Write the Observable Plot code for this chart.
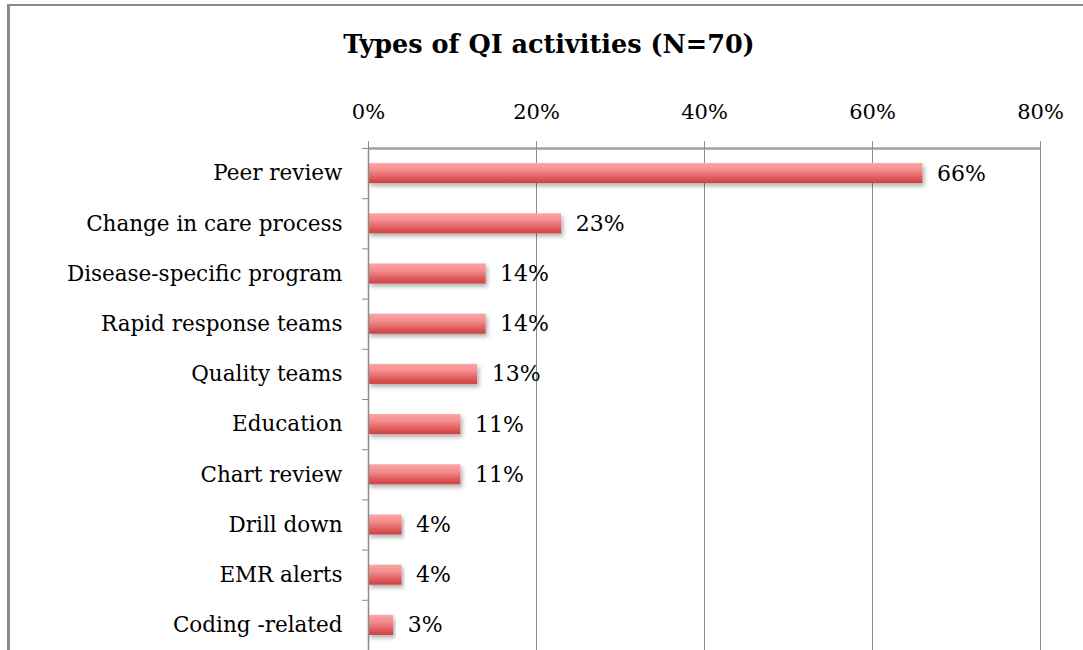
<!DOCTYPE html>
<html>
<head>
<meta charset="utf-8">
<script src="https://cdn.jsdelivr.net/npm/d3@7"></script>
<script src="https://cdn.jsdelivr.net/npm/@observablehq/plot@0.6"></script>
<style>
  html, body { margin: 0; padding: 0; background: #fff; width: 1083px; height: 650px; overflow: hidden; }
  #frame { position: absolute; left: 7px; top: 4px; width: 1100px; height: 700px; border-left: 3px solid #8a8a8a; border-top: 2px solid #8a8a8a; }
  #title { position: absolute; left: 0; width: 1098px; top: 29px; text-align: center; font-family: "DejaVu Serif", serif; font-weight: bold; font-size: 25.5px; color: #000; }
  #chart { position: absolute; left: 0; top: 70px; }
</style>
</head>
<body>
<div id="frame"></div>
<div id="title">Types of QI activities (N=70)</div>
<div id="chart"></div>
<script>
const categories = ["Peer review", "Change in care process", "Disease-specific program", "Rapid response teams", "Quality teams", "Education", "Chart review", "Drill down", "EMR alerts", "Coding -related"];
const values = [66, 23, 14, 14, 13, 11, 11, 4, 4, 3];
const xTicks = [0, 20, 40, 60, 80];

const data = categories.map((c, i) => ({ i, c, v: values[i] }));
const font = "DejaVu Serif, serif";

const plot = Plot.plot({
  width: 1083,
  height: 580,
  marginLeft: 368,
  marginRight: 43,
  marginTop: 78,
  marginBottom: 0,
  style: { fontFamily: font, fontSize: "20px", color: "#000", background: "transparent" },
  x: { domain: [0, 80], label: null },
  y: { domain: [-0.5, 9.5], reverse: true, label: null },
  marks: [
    Plot.ruleX([20, 40, 60, 80], { stroke: "#8c8c8c", strokeWidth: 1, strokeOpacity: 1 }),
    Plot.rectX(data, { x1: 0, x2: "v", y1: d => d.i - 0.2, y2: d => d.i + 0.2, fill: "url(#barGrad)" }),
    Plot.ruleX([0], { stroke: "#8c8c8c", strokeWidth: 1.5 }),
    Plot.ruleY([-0.5], { stroke: "#a0a0a0", strokeWidth: 2.5 }),
    Plot.axisX({ anchor: "top", ticks: xTicks, tickFormat: d => d + "%", tickSize: 8, tickPadding: 22, fontSize: 21, stroke: "#8c8c8c", fill: "#000", label: null }),
    Plot.axisY({ anchor: "left", ticks: d3.range(-0.5, 10, 1), tickFormat: () => "", tickSize: 6, stroke: "#8c8c8c", label: null }),
    Plot.axisY({ anchor: "left", ticks: d3.range(0, 10), tickFormat: i => categories[i], tickSize: 0, tickPadding: 26, fontSize: 21.5, fill: "#000", label: null }),
    Plot.text(data, { x: "v", y: "i", text: d => d.v + "%", dx: 14, textAnchor: "start", fontSize: 22, fill: "#000" })
  ]
});

const ns = "http://www.w3.org/2000/svg";
const defs = document.createElementNS(ns, "defs");
defs.innerHTML = `
  <linearGradient id="barGrad" x1="0" y1="0" x2="0" y2="1">
    <stop offset="0" stop-color="#fba5a5"/>
    <stop offset="0.35" stop-color="#f48e8e"/>
    <stop offset="0.75" stop-color="#de5a5a"/>
    <stop offset="1" stop-color="#cc4242"/>
  </linearGradient>
  <filter id="shadow" x="-5%" y="-30%" width="115%" height="190%">
    <feDropShadow dx="2" dy="3" stdDeviation="2" flood-color="#000" flood-opacity="0.3"/>
  </filter>`;
plot.insertBefore(defs, plot.firstChild);
plot.querySelectorAll("rect").forEach(r => { if (r.getAttribute("fill") === "url(#barGrad)" || r.parentNode.getAttribute("fill") === "url(#barGrad)") r.setAttribute("filter", "url(#shadow)"); });
document.getElementById("chart").appendChild(plot);
</script>
</body>
</html>
